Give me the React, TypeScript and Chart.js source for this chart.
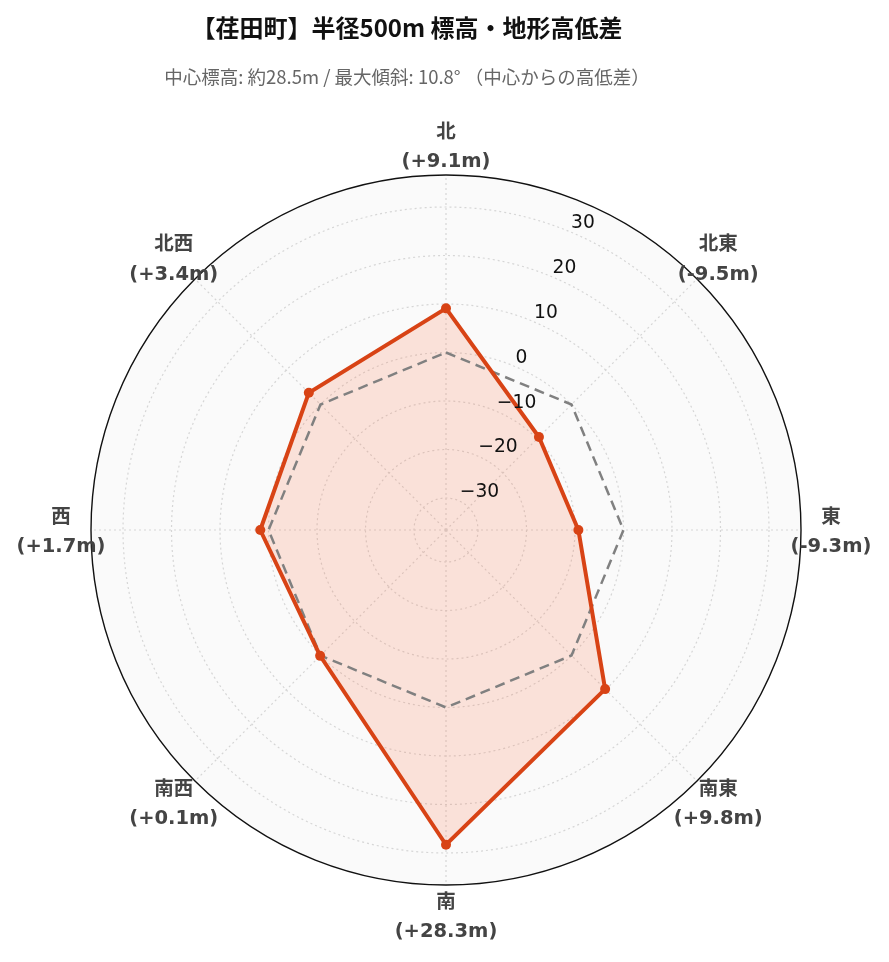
import React, { useEffect, useRef } from "react";
import { Chart, registerables } from "chart.js";

Chart.register(...registerables);

// ---- data ----
const directions = ["北", "北東", "東", "南東", "南", "南西", "西", "北西"];
const elevationDiff = [9.1, -9.5, -9.3, 9.8, 28.3, 0.1, 1.7, 3.4];
const zeroLine = [0, 0, 0, 0, 0, 0, 0, 0];
const radialTicks = [-30, -20, -10, 0, 10, 20, 30];
const radialMin = -36.6;
const radialMax = 36.6;
const titleText = "【荏田町】半径500m 標高・地形高低差";
const subtitleText = "中心標高: 約28.5m / 最大傾斜: 10.8° （中心からの高低差）";

const fmtDiff = (v: number) => "(" + (v >= 0 ? "+" : "-") + Math.abs(v).toFixed(1) + "m)";
const fmtTick = (v: number) => (v < 0 ? "\u2212" + Math.abs(v) : String(v));

const RED = "#D84315";

const overlayPlugin = {
  id: "overlayPlugin",
  afterDatasetsDraw(chart: any) {
    const s = chart.scales.r;
    const ctx = chart.ctx;
    ctx.save();
    // outer boundary circle
    ctx.beginPath();
    ctx.arc(s.xCenter, s.yCenter, s.drawingArea, 0, Math.PI * 2);
    ctx.strokeStyle = "#111";
    ctx.lineWidth = 1.4;
    ctx.setLineDash([]);
    ctx.stroke();
    // radial tick labels along a tilted axis
    const ang = ((-90 + 22.5) * Math.PI) / 180;
    ctx.font = '18.7px "DejaVu Sans", sans-serif';
    ctx.fillStyle = "#111";
    ctx.textAlign = "left";
    ctx.textBaseline = "middle";
    radialTicks.forEach((v) => {
      const d = s.getDistanceFromCenterForValue(v);
      const x = s.xCenter + d * Math.cos(ang);
      const y = s.yCenter + d * Math.sin(ang);
      ctx.fillText(fmtTick(v), x + 1.5, y - 8);
    });
    ctx.restore();
  },
  afterDraw(chart: any) {
    const s = chart.scales.r;
    const ctx = chart.ctx;
    ctx.save();
    // point labels
    ctx.font = 'bold 19.5px "DejaVu Sans", "Noto Sans CJK JP", sans-serif';
    ctx.fillStyle = "#444";
    ctx.textAlign = "center";
    ctx.textBaseline = "middle";
    directions.forEach((d, i) => {
      const p = s.getPointPosition(i, s.drawingArea + 30);
      ctx.fillText(d, p.x, p.y - 12.5);
      ctx.fillText(fmtDiff(elevationDiff[i]), p.x, p.y + 17);
    });
    // title & subtitle
    ctx.fillStyle = "#111";
    ctx.font = 'bold 24px "Noto Sans CJK JP", sans-serif';
    ctx.fillText(titleText, 407, 28);
    ctx.fillStyle = "#666";
    ctx.font = '18.5px "Noto Sans CJK JP", sans-serif';
    ctx.fillText(subtitleText, 407, 76.5);
    ctx.restore();
  },
};

export default function App() {
  const canvasRef = useRef<HTMLCanvasElement | null>(null);

  useEffect(() => {
    if (!canvasRef.current) return;
    const chart = new Chart(canvasRef.current, {
      type: "radar",
      data: {
        labels: directions,
        datasets: [
          {
            label: "高低差",
            data: elevationDiff,
            borderColor: RED,
            backgroundColor: "rgba(255,87,34,0.15)",
            borderWidth: 4,
            fill: "start",
            tension: 0,
            pointRadius: 5,
            pointBackgroundColor: RED,
            pointBorderWidth: 0,
            order: 0,
          },
          {
            label: "基準 (0m)",
            data: zeroLine,
            borderColor: "rgb(128,128,128)",
            borderWidth: 2.5,
            borderDash: [10, 6],
            fill: false,
            tension: 0,
            pointRadius: 0,
            order: 1,
          },
        ],
      },
      options: {
        responsive: false,
        animation: false,
        layout: { padding: { left: 91, right: 88, top: 175, bottom: 77 } },
        plugins: {
          legend: { display: false },
          tooltip: { enabled: false },
          title: { display: false },
          filler: { drawTime: "beforeDatasetsDraw" },
        },
        scales: {
          r: {
            min: radialMin,
            max: radialMax,
            backgroundColor: "#fafafa",
            ticks: { display: false, stepSize: 10, includeBounds: false },
            pointLabels: { display: false },
            grid: { circular: true, color: "#d6d6d6", lineWidth: 1.2 },
            border: { dash: [2, 3] },
            angleLines: { color: "#d6d6d6", lineWidth: 1.2, borderDash: [2, 3] },
          },
        },
      } as any,
      plugins: [overlayPlugin],
    });
    return () => chart.destroy();
  }, []);

  return (
    <div style={{ position: "absolute", left: 0, top: 0, width: 889, height: 962, background: "#fff" }}>
      <canvas ref={canvasRef} width={889} height={962} />
    </div>
  );
}
